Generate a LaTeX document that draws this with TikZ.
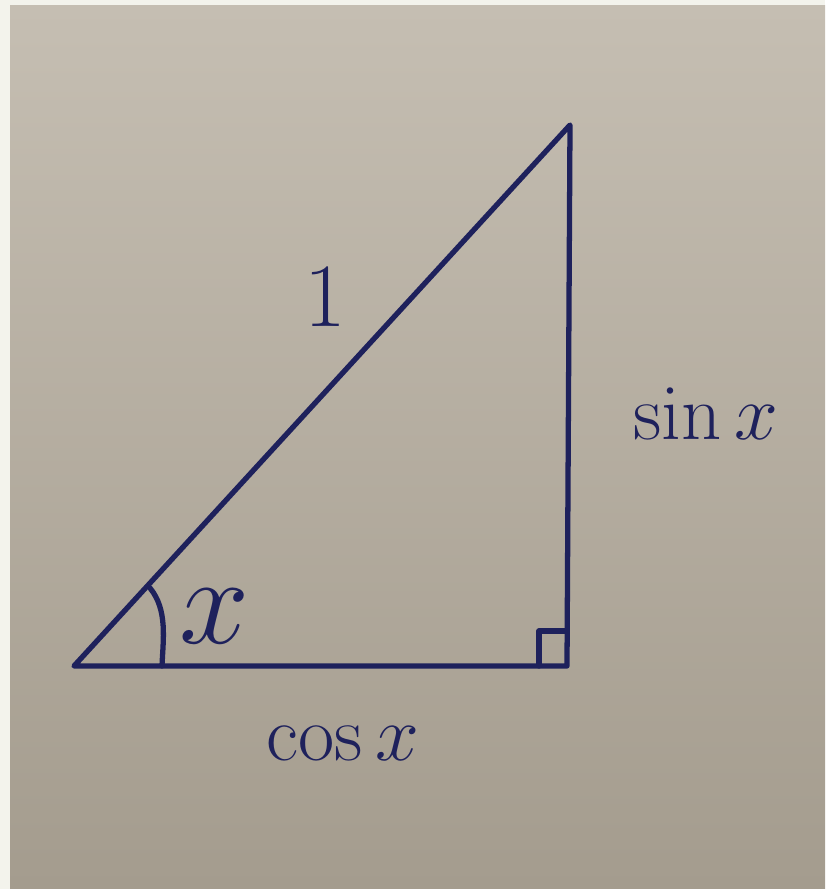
\documentclass[tikz,border=0pt]{standalone}
\usetikzlibrary{positioning}

\definecolor{ink}{RGB}{30,33,92}
\definecolor{papertop}{RGB}{197,190,178}
\definecolor{paperbot}{RGB}{164,156,142}
\definecolor{margin}{RGB}{243,243,236}

\tikzset{
  side/.style={draw=ink, line width=1.5pt, line cap=round, line join=round},
  lbl/.style={text=ink, inner sep=0pt, font=\Huge, scale=0.9, transform shape}
}

\begin{document}
\begin{tikzpicture}
  % Paper and margin
  \fill[margin] (0,0) rectangle (8.25,8.89);
  \shade[top color=papertop, bottom color=paperbot] (0.10,0) rectangle (8.25,8.83);
  \useasboundingbox (0,0) rectangle (8.25,8.89);

  % Vertices
  \coordinate (A) at (0.74,2.23);
  \coordinate (C) at (5.67,2.23);
  \coordinate (B) at (5.70,7.64);

  % Triangle
  \draw[side] (A) -- (C) -- (B) -- cycle;

  % Angle mark and right angle
  \coordinate (arcS) at (1.50,3.01);
  \coordinate (arcE) at (1.62,2.23);
  \draw[side] (arcS) .. controls (1.68,2.79) and (1.63,2.49) .. (arcE);
  \draw[side] (5.39,2.23) -- (5.39,2.58) -- (5.67,2.58);

  % Labels
  \node[lbl, scale=1.6] (angx) at (2.15,2.73) {$x$};
  \node[lbl, scale=1.15] (hyp) at (3.25,5.92) {1};
  \node[lbl] (opp) at (7.06,4.75) {$\sin x$};
  \node[lbl] (adj) at (3.43,1.45) {$\cos x$};
\end{tikzpicture}
\end{document}
